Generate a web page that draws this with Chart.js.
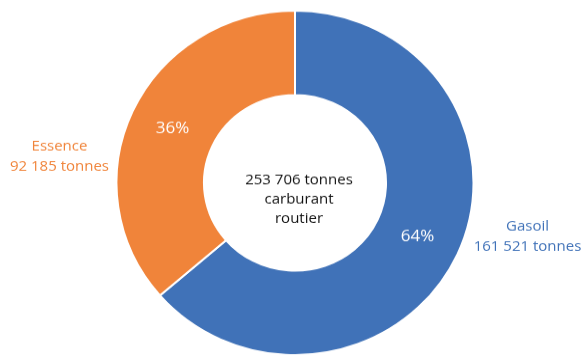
<!DOCTYPE html>
<html>
<head>
<meta charset="utf-8">
<script src="https://cdn.jsdelivr.net/npm/chart.js@4/dist/chart.umd.min.js"></script>
<style>
  html, body { margin: 0; padding: 0; background: #ffffff; overflow: hidden; }
  #wrap { width: 582px; height: 369px; transform: scaleY(0.9648); transform-origin: 0 0; }
</style>
</head>
<body>
<div id="wrap"><canvas id="c" width="582" height="369"></canvas></div>
<script>
const categories = ["Gasoil", "Essence"];
const tonnes = [161521, 92185];
const tonnesLabels = ["161 521 tonnes", "92 185 tonnes"];
const percentLabels = ["64%", "36%"];
const colors = ["#4072B8", "#F0843A"];
const centerLines = ["253 706 tonnes", "carburant", "routier"];

const FONT = "'Open Sans', 'Noto Sans', sans-serif";

const labelPlugin = {
  id: 'labels',
  afterDatasetsDraw(chart) {
    const ctx = chart.ctx;
    const meta = chart.getDatasetMeta(0);
    const arc0 = meta.data[0];
    const cx = arc0.x, cy = arc0.y;
    const R = arc0.outerRadius;
    ctx.save();
    ctx.textAlign = 'center';
    ctx.textBaseline = 'middle';
    ctx.font = '17px ' + FONT;
    ctx.fillStyle = '#ffffff';
    meta.data.forEach((arc, i) => {
      const p = arc.tooltipPosition();
      ctx.fillText(percentLabels[i], p.x, p.y);
    });
    ctx.font = '15px ' + FONT;
    ctx.fillStyle = colors[0];
    ctx.fillText(categories[0], cx + R + 54, cy + 45);
    ctx.fillText(tonnesLabels[0], cx + R + 54, cy + 66);
    ctx.fillStyle = colors[1];
    ctx.fillText(categories[1], cx - R - 57, cy - 38);
    ctx.fillText(tonnesLabels[1], cx - R - 57, cy - 17);
    ctx.fillStyle = '#111111';
    ctx.font = '15px ' + FONT;
    ctx.fillText(centerLines[0], cx + 4, cy - 3);
    ctx.fillText(centerLines[1], cx + 4, cy + 17);
    ctx.fillText(centerLines[2], cx + 4, cy + 37);
    ctx.restore();
  }
};

new Chart(document.getElementById('c'), {
  type: 'doughnut',
  data: {
    labels: categories,
    datasets: [{
      data: tonnes,
      backgroundColor: colors,
      borderColor: '#ffffff',
      borderWidth: 2,
      hoverOffset: 0
    }]
  },
  options: {
    responsive: false,
    animation: false,
    cutout: '51%',
    rotation: 0,
    layout: { padding: { top: 10, bottom: 0, left: 8, right: 0 } },
    plugins: { legend: { display: false }, tooltip: { enabled: false } }
  },
  plugins: [labelPlugin]
});
</script>
</body>
</html>
